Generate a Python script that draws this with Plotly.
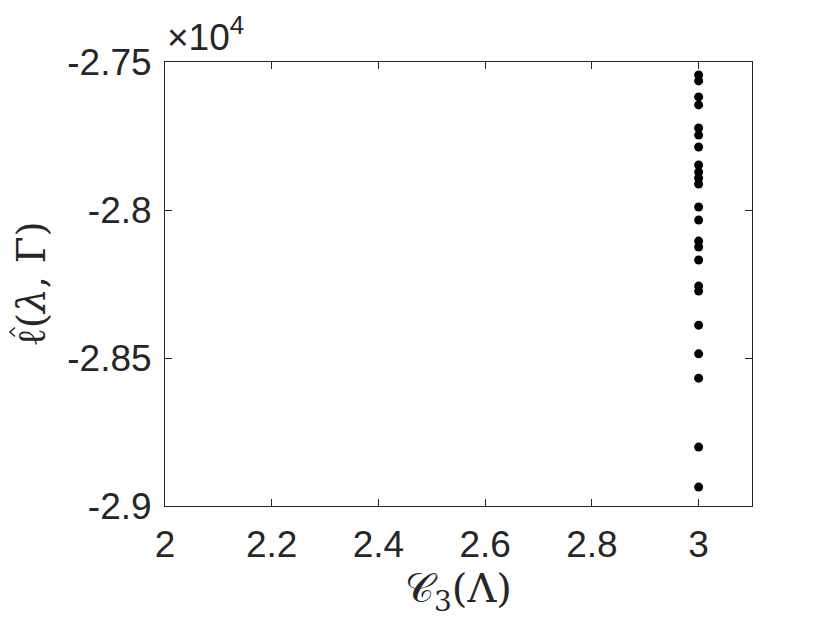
import plotly.graph_objects as go

x_vals = [3.0] * 23
y_vals = [-27544, -27564, -27618, -27645, -27723, -27747, -27787, -27848,
          -27872, -27892, -27912, -27990, -28034, -28105, -28125, -28169,
          -28257, -28274, -28389, -28486, -28568, -28801, -28936]

x_ticks = [2, 2.2, 2.4, 2.6, 2.8, 3]
x_ticktext = ["2", "2.2", "2.4", "2.6", "2.8", "3"]
y_ticks = [-27500, -28000, -28500, -29000]
y_ticktext = ["-2.75", "-2.8", "-2.85", "-2.9"]

fig = go.Figure()
fig.add_trace(go.Scatter(x=x_vals, y=y_vals, mode="markers",
                         marker=dict(color="black", size=9), showlegend=False))

axis_common = dict(showline=True, linecolor="#262626", linewidth=1, mirror="ticks",
                   ticks="inside", ticklen=7, tickcolor="#262626", showgrid=False,
                   zeroline=False, tickfont=dict(family="Liberation Sans, Arial", size=37, color="#262626"))

fig.update_xaxes(range=[2, 3.1], tickvals=x_ticks, ticktext=x_ticktext, ticklabelstandoff=6,
                 title=dict(text="𝒞<sub>3</sub>(Λ)", font=dict(family="DejaVu Serif, DejaVu Sans", size=40, color="#262626"),
                            standoff=4), **axis_common)
fig.update_yaxes(range=[-29000, -27500], tickvals=y_ticks, ticktext=y_ticktext, ticklabelstandoff=5,
                 title=dict(text="ℓ(<i>λ</i>, Γ)", font=dict(family="DejaVu Serif", size=39, color="#262626"),
                            standoff=9), **axis_common)

# circumflex (hat) over the ell of the rotated y title
fig.add_shape(type="path", xref="paper", yref="paper",
              path="M -0.2555,0.4020 L -0.2641,0.3919 L -0.2555,0.3818",
              line=dict(color="#262626", width=1.5))

fig.add_annotation(text="×10<sup>4</sup>", xref="paper", yref="paper", x=0.0, y=1.0,
                   xanchor="left", yanchor="bottom", showarrow=False, yshift=2,
                   font=dict(family="Liberation Sans, Arial", size=37, color="#262626"))

fig.update_layout(width=830, height=623, plot_bgcolor="white", paper_bgcolor="white",
                  margin=dict(l=157, r=86, t=54, b=125))

fig.write_html("out.html")
